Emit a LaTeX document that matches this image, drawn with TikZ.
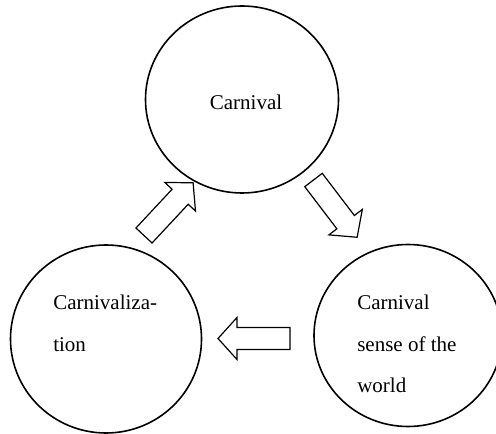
\documentclass[tikz,border=0pt]{standalone}
\usepackage{fontspec}
\setmainfont{Liberation Serif}
\usetikzlibrary{shapes.geometric}

\tikzset{
  ring/.style={draw, ellipse, line width=1.2pt, inner sep=0pt},
  ringtext/.style={font=\fontsize{15.75}{31.1}\selectfont, inner sep=0pt, align=left},
  blockarrow/.style={line width=0.9pt, line join=miter, fill=white}
}

\begin{document}
\begin{tikzpicture}[x=0.75pt,y=0.75pt,yscale=-1,xscale=1]
    \useasboundingbox (0,0) rectangle (496,434);

    %Shape: Ellipse
    \node (carnival) [ring, minimum width=144.75pt, minimum height=140.25pt] at (242,99.5) {};
    %Shape: Ellipse
    \node (carnivalization) [ring, minimum width=143.25pt, minimum height=141pt] at (106,339) {};
    %Shape: Ellipse
    \node (sense) [ring, minimum width=141pt, minimum height=136.5pt] at (408,335.5) {};

    %Shape: Right Arrow
    \draw [blockarrow, shift={(144,235.5)}, rotate=-47] (0,-11) -- (53,-11) -- (53,-21) -- (72,0) -- (53,21) -- (53,11) -- (0,11) -- cycle ;
    %Shape: Right Arrow
    \draw [blockarrow, shift={(313.5,180)}, rotate=52.7] (0,-11) -- (53,-11) -- (53,-21) -- (72,0) -- (53,21) -- (53,11) -- (0,11) -- cycle ;
    %Shape: Right Arrow
    \draw [blockarrow, shift={(290,338.5)}, rotate=180] (0,-11) -- (53,-11) -- (53,-21) -- (72,0) -- (53,21) -- (53,11) -- (0,11) -- cycle ;

    % Text Node
    \node (carnivaltext) [ringtext, anchor=base] at (246,110) {Carnival};
    % Text Node
    \node (carnivalizationtext) [ringtext, anchor=north west] at (53,294.7) {Carnivaliza-\\tion};
    % Text Node
    \node (sensetext) [ringtext, anchor=north west] at (357,294.7) {Carnival\\sense of the\\world};

\end{tikzpicture}
\end{document}
